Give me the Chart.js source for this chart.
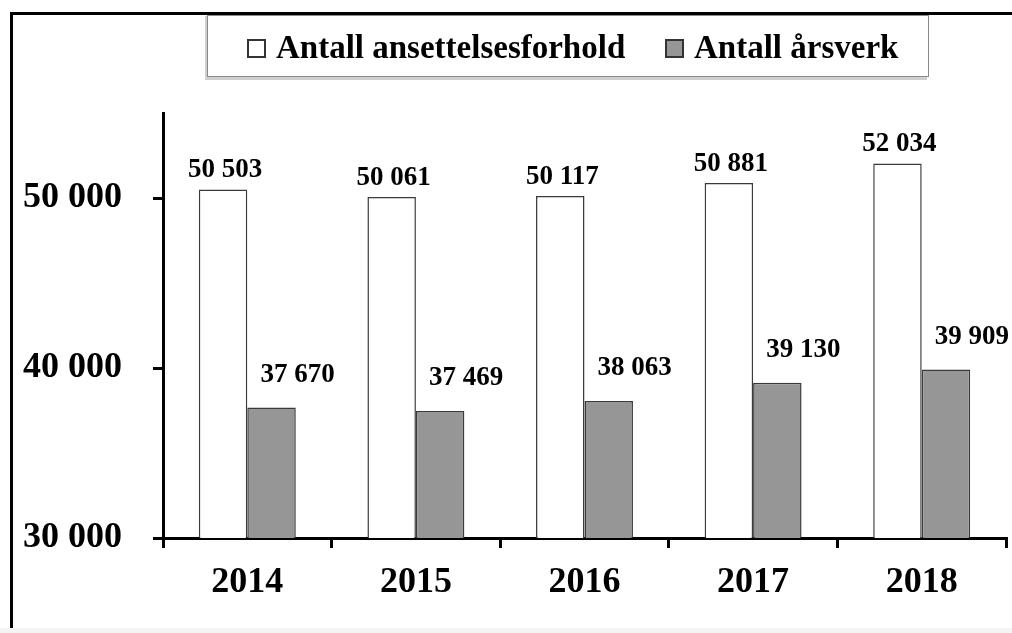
<!DOCTYPE html>
<html>
<head>
<meta charset="utf-8">
<script src="https://cdn.jsdelivr.net/npm/chart.js@4/dist/chart.umd.min.js"></script>
<style>
  html, body { margin: 0; padding: 0; background: #fff; overflow: hidden; }
  #wrap { position: relative; width: 1012px; height: 633px; }
  #frame { position: absolute; left: 10px; top: 12px; width: 1100px; height: 700px;
           border-top: 3px solid #000; border-left: 3px solid #000; }
  #foot { position: absolute; left: 0; top: 628px; width: 1012px; height: 5px; background: #f4f4f4; }
  canvas { position: absolute; left: 0; top: 0; }
</style>
</head>
<body>
<div id="wrap">
  <div id="frame"></div>
  <div id="foot"></div>
  <canvas id="barChart" width="1012" height="633"></canvas>
</div>
<script>
// Data
const years = ['2014', '2015', '2016', '2017', '2018'];
const ansettelsesforhold = [50503, 50061, 50117, 50881, 52034];
const arsverk = [37670, 37469, 38063, 39130, 39909];
const yTicks = [30000, 40000, 50000];

const serif = "'Liberation Serif', 'Times New Roman', serif";
const fmt = v => String(v).replace(/\B(?=(\d{3})+(?!\d))/g, ' ');

// value labels above the bars (offsets per dataset, as in the original)
const valueLabels = {
    id: 'valueLabels',
    afterDatasetsDraw(chart) {
        const ctx = chart.ctx;
        const offsets = [{ dx: 2, dy: 12 }, { dx: 26, dy: 26 }];
        ctx.save();
        ctx.font = 'bold 27px ' + serif;
        ctx.fillStyle = '#000';
        ctx.textAlign = 'center';
        ctx.textBaseline = 'alphabetic';
        chart.data.datasets.forEach((ds, i) => {
            const meta = chart.getDatasetMeta(i);
            meta.data.forEach((bar, j) => {
                ctx.fillText(fmt(ds.data[j]), bar.x + offsets[i].dx, bar.y - offsets[i].dy);
            });
        });
        ctx.restore();
    }
};

// legend in a bordered box at the top
const boxLegend = {
    id: 'boxLegend',
    afterDraw(chart) {
        const ctx = chart.ctx;
        ctx.save();
        // shadow
        ctx.fillStyle = '#cfcfcf';
        ctx.fillRect(205, 77, 722, 3);
        ctx.fillRect(205, 16, 3, 62);
        ctx.fillStyle = '#fff';
        ctx.fillRect(207.5, 15.5, 721, 61);
        ctx.strokeStyle = '#8a8a8a';
        ctx.lineWidth = 1;
        ctx.strokeRect(207.5, 15.5, 721, 61);

        const items = [{ x: 248 }, { x: 666 }];
        ctx.font = 'bold 33px ' + serif;
        ctx.textBaseline = 'alphabetic';
        ctx.textAlign = 'left';
        chart.data.datasets.forEach((ds, i) => {
            const x = items[i].x;
            ctx.fillStyle = ds.backgroundColor;
            ctx.fillRect(x, 40, 17, 17);
            ctx.strokeStyle = '#333';
            ctx.lineWidth = 2;
            ctx.strokeRect(x, 40, 17, 17);
            ctx.fillStyle = '#000';
            ctx.fillText(ds.label, x + 28, 58);
        });
        ctx.restore();
    }
};

const ctx = document.getElementById('barChart').getContext('2d');
new Chart(ctx, {
    type: 'bar',
    data: {
        labels: years,
        datasets: [{
            label: 'Antall ansettelsesforhold',
            data: ansettelsesforhold,
            backgroundColor: '#ffffff',
            borderColor: '#3a3a3a',
            borderWidth: 1.5,
        }, {
            label: 'Antall årsverk',
            data: arsverk,
            backgroundColor: '#969696',
            borderColor: '#3a3a3a',
            borderWidth: 1.5,
        }],
    },
    options: {
        responsive: false,
        animation: false,
        layout: { padding: { top: 113, right: 6, left: 0, bottom: 0 } },
        datasets: { bar: { categoryPercentage: 0.575, barPercentage: 1 } },
        plugins: {
            legend: { display: false },
            tooltip: { enabled: false },
        },
        scales: {
            x: {
                grid: { drawOnChartArea: false, color: '#000', lineWidth: 3, tickLength: 10, offset: true },
                border: { color: '#000', width: 3 },
                ticks: { color: '#000', font: { family: serif, size: 36, weight: 'bold' }, padding: 13 },
                afterFit(axis) { axis.height = 95; },
            },
            y: {
                min: 30000,
                max: 55000,
                grid: { drawOnChartArea: false, color: '#000', lineWidth: 3, tickLength: 10 },
                border: { color: '#000', width: 3 },
                ticks: {
                    stepSize: 10000,
                    color: '#000',
                    padding: 31,
                    font: { family: serif, size: 36, weight: 'bold' },
                    callback: v => fmt(v),
                },
                afterBuildTicks(axis) {
                    axis.ticks = yTicks.map(v => ({ value: v }));
                },
                afterFit(axis) { axis.width = 163; },
            },
        },
    },
    plugins: [valueLabels, boxLegend],
});
</script>
</body>
</html>
